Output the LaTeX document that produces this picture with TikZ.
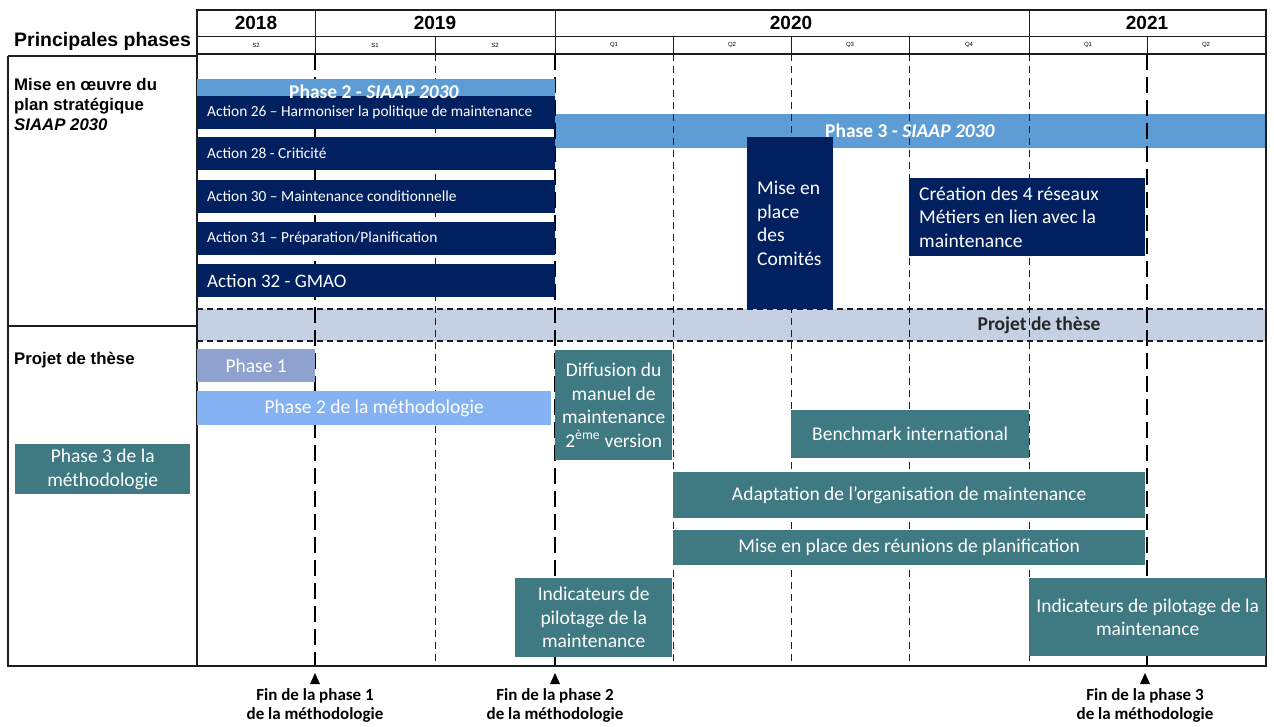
\documentclass[tikz,border=0pt]{standalone}
\usepackage{fontspec}
\setmainfont{Carlito}
\newfontfamily\arialfont{Liberation Sans}
\usetikzlibrary{arrows.meta,positioning}
\definecolor{SiaapNavy}{RGB}{0,32,96}
\definecolor{SiaapBlue}{RGB}{93,156,212}
\definecolor{TheseTeal}{RGB}{63,121,130}
\definecolor{TheseBand}{RGB}{197,208,226}
\definecolor{PhaseOne}{RGB}{143,161,206}
\definecolor{PhaseTwo}{RGB}{132,178,242}
\definecolor{GridGray}{RGB}{30,30,30}
\tikzset{
  box/.style={anchor=north west,fill=#1,text=white,align=center,inner sep=0pt,
    font=\fontsize{19.5}{23.5}\selectfont},
  actionbar/.style={anchor=north west,fill=SiaapNavy,text=white,align=flush left,
    inner xsep=10pt,inner ysep=0pt,text width=338pt,minimum height=33pt,
    font=\fontsize{15.4}{18}\selectfont},
  yearlabel/.style={font=\arialfont\bfseries\fontsize{19}{21}\selectfont},
  sublabel/.style={font=\arialfont\fontsize{6}{7}\selectfont},
  rowlabel/.style={anchor=north west,align=flush left,inner sep=0pt,
    font=\arialfont\bfseries\fontsize{16.8}{20}\selectfont},
  milestone/.style={align=center,inner sep=0pt,
    font=\bfseries\fontsize{17}{19}\selectfont},
  bartitle/.style={font=\bfseries\fontsize{19.5}{22}\selectfont,text=white},
  gridline/.style={GridGray,line width=0.8pt,dash pattern=on 7pt off 5pt},
  endline/.style={black,line width=2pt,dash pattern=on 16pt off 7pt},
  bandline/.style={GridGray,line width=1.2pt,dash pattern=on 6pt off 4pt}
}
\begin{document}
\begin{tikzpicture}[x=1pt,y=-1pt,>=Latex]
  \useasboundingbox (0,0) rectangle (1274,726);
  % en-tete
  \node[font=\arialfont\bfseries\fontsize{19.5}{21}\selectfont,anchor=west,inner sep=0pt]
    (titre) at (14,41) {Principales phases};
  \draw[line width=1.3pt,GridGray] (197,10) rectangle (1266,54);
  \draw[line width=1pt,GridGray] (197,36) -- (1266,36);
  \foreach \xx in {315,555,1029}
    \draw[line width=1pt,GridGray] (\xx,10) -- (\xx,54);
  \foreach \xx in {435,673,791,909,1147}
    \draw[line width=1pt,GridGray] (\xx,36) -- (\xx,54);
  \node[yearlabel] (a2018) at (256,23) {2018};
  \node[yearlabel] (a2019) at (435,23) {2019};
  \node[yearlabel] (a2020) at (791,23) {2020};
  \node[yearlabel] (a2021) at (1147,23) {2021};
  \foreach \xx/\lab in {256/S2,375/S1,495/S2,614/Q1,732/Q2,850/Q3,969/Q4,1088/Q1,1206/Q2}
    \node[sublabel] at (\xx,45) {\lab};
  % bandes claires
  \node[box=SiaapBlue,minimum width=711pt,minimum height=34pt] (phase3) at (555,114) {};
  \node[box=TheseBand,minimum width=1069pt,minimum height=32pt] (bande) at (197,309) {};
  % grille
  \foreach \xx in {435,673,791,909,1029}
    \draw[gridline] (\xx,54) -- (\xx,666);
  \foreach \xx in {315,555,1147}
    \draw[endline] (\xx,54) -- (\xx,666);
  \draw[bandline] (197,309) -- (1266,309);
  \draw[bandline] (197,341) -- (1266,341);
  \node[bartitle,text=black!85] (thesebande) at (1039,325) {Projet de thèse};
  \node[bartitle] (phase3titre) at (910,131) {Phase 3 - \textit{SIAAP 2030}};
  % cadre
  \draw[line width=1.3pt,GridGray] (8,56) -- (197,56);
  \draw[line width=1.3pt,GridGray] (8,56) -- (8,666) -- (1266,666) -- (1266,54);
  \draw[line width=1.3pt,GridGray] (197,54) -- (197,666);
  \draw[line width=1.3pt,GridGray] (8,326) -- (197,326);
  \node[rowlabel] (plan) at (14,78) {Mise en œuvre du\\plan stratégique\\\textit{SIAAP 2030}};
  \node[rowlabel] (these) at (14,352) {Projet de thèse};
  % plan strategique
  \node[actionbar] (act26) at (197,96) {Action 26 – Harmoniser la politique de maintenance};
  \node[box=SiaapBlue,minimum width=358pt,minimum height=17pt] (phase2) at (197,79) {};
  \node[bartitle] (phase2titre) at (374,92) {Phase 2 - \textit{SIAAP 2030}};
  \node[actionbar] (act28) at (197,137) {Action 28 - Criticité};
  \node[actionbar] (act30) at (197,180) {Action 30 – Maintenance conditionnelle};
  \node[actionbar] (act31) at (197,222) {Action 31 – Préparation/Planification};
  \node[actionbar,font=\fontsize{19}{20}\selectfont] (act32) at (197,264) {Action 32 - GMAO};
  \node[box=SiaapNavy,minimum width=86pt,minimum height=172pt,align=flush left,
    text width=66pt,inner xsep=10pt] (comites) at (747,137) {Mise en\\place\\des\\Comités};
  \node[box=SiaapNavy,minimum width=236pt,minimum height=78pt,align=flush left,
    text width=216pt,inner xsep=10pt] (reseaux) at (909,178)
    {Création des 4 réseaux\\Métiers en lien avec la\\maintenance};
  % projet de these
  \node[box=PhaseOne,minimum width=118pt,minimum height=33pt] (ph1) at (197,349) {Phase 1};
  \node[box=PhaseTwo,minimum width=354pt,minimum height=34pt] (ph2) at (197,391) {Phase 2 de la méthodologie};
  \node[box=TheseTeal,minimum width=175pt,minimum height=50pt] (ph3) at (15,444) {Phase 3 de la\\méthodologie};
  \node[box=TheseTeal,minimum width=117pt,minimum height=110pt] (diffusion) at (555,350)
    {Diffusion du\\manuel de\\maintenance\\2\textsuperscript{ème} version};
  \node[box=TheseTeal,minimum width=238pt,minimum height=48pt] (bench) at (791,410) {Benchmark international};
  \node[box=TheseTeal,minimum width=472pt,minimum height=46pt] (adapt) at (673,472)
    {Adaptation de l’organisation de maintenance};
  \node[box=TheseTeal,minimum width=472pt,minimum height=35pt] (reunions) at (673,530)
    {Mise en place des réunions de planification};
  \node[box=TheseTeal,minimum width=157pt,minimum height=79pt] (indic1) at (515,578)
    {Indicateurs de\\pilotage de la\\maintenance};
  \node[box=TheseTeal,minimum width=237pt,minimum height=78pt] (indic2) at (1029,578)
    {Indicateurs de pilotage de la\\maintenance};
  % jalons
  \foreach \xx/\num in {315/1,555/2,1145/3} {
    \fill (\xx-5,684) -- (\xx,673) -- (\xx+5,684) -- cycle;
    \node[milestone] (fin\num) at (\xx,705) {Fin de la phase \num\\de la méthodologie};
  }
\end{tikzpicture}
\end{document}
